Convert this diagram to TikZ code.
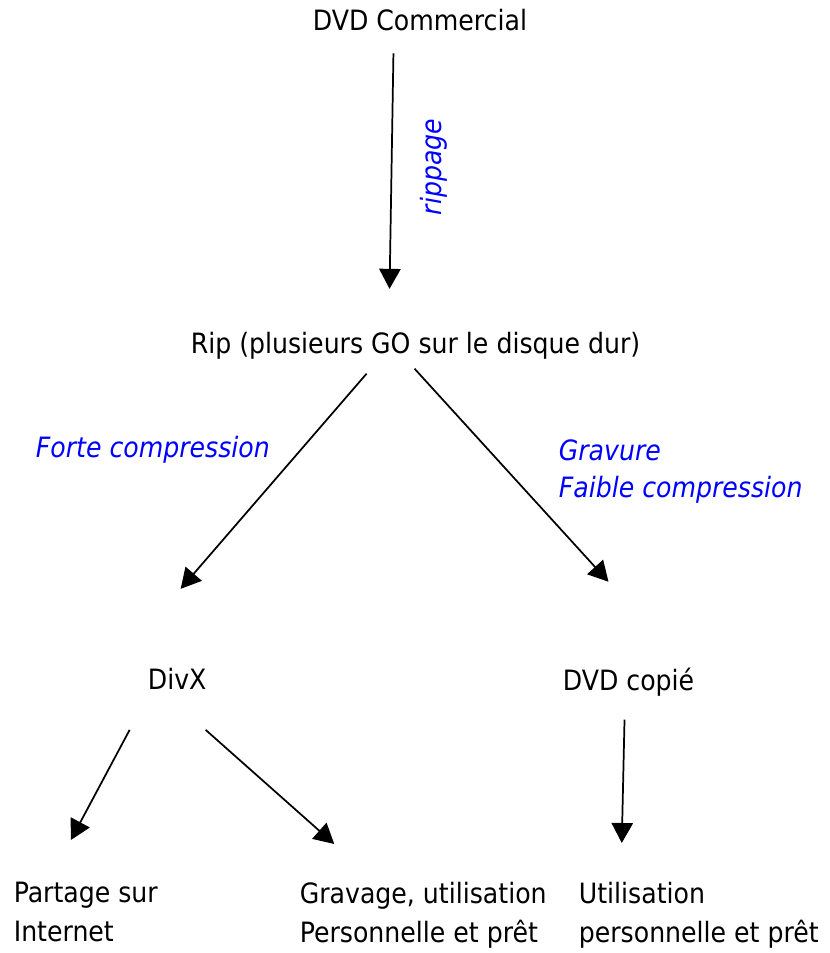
\documentclass[tikz,border=0pt]{standalone}
\usepackage{fontspec}
\setmainfont{DejaVu Sans Condensed}
\usetikzlibrary{arrows.meta, calc}

\tikzset{
  lbl/.style={inner sep=0pt, anchor=base west},
  step2/.style={inner sep=0pt, anchor=north west, align=left, font=\fontsize{21}{29.25}\selectfont},
  edgelbl/.style={inner sep=0pt, text=blue, font=\fontsize{21}{27.75}\selectfont\itshape}
}

\begin{document}
\begin{tikzpicture}[x=0.75pt, y=-0.75pt, >={Triangle[width=16pt, length=15pt]},
    font=\fontsize{21}{29}\selectfont, line width=1.3pt]
  \useasboundingbox (0,0) rectangle (830,953);

  % les etapes
  \node[lbl] (dvd) at (312,31) {DVD Commercial};
  \node[lbl] (rip) at (190,353) {Rip (plusieurs GO sur le disque dur)};
  \node[lbl] (divx) at (147,689) {DivX};
  \node[lbl] (copie) at (562,690) {DVD copié};
  \node[step2] (partage) at (13,881) {Partage sur\\Internet};
  \node[step2] (gravage) at (299,881) {Gravage, utilisation\\Personnelle et prêt};
  \node[step2] (perso) at (578,881) {Utilisation\\personnelle et prêt};

  % les fleches
  \draw[->] ($(dvd.south)+(-26.5,21)$) -- ($(rip.north)+(-26,-42)$);
  \draw[->] ($(rip.south)+(-49,14)$) -- ($(divx.north)+(3.5,-78)$);
  \draw[->] ($(rip.south)+(-1,9)$) -- ($(copie.north)+(-20,-85)$);
  \draw[->] ($(divx.south)+(-47.5,40)$) -- ($(partage.north)+(-15,-41)$);
  \draw[->] ($(divx.south)+(28.5,40)$) -- ($(gravage.north)+(-89,-37)$);
  \draw[->] ($(copie.south)+(-4,23)$) -- ($(perso.north)+(-77,-38)$);

  % les etiquettes
  \node[edgelbl, rotate=90] (rippage) at (434,167) {rippage};
  \node[edgelbl, anchor=base west] (forte) at (35,457) {Forte compression};
  \node[edgelbl, anchor=north west, align=left] (gravure) at (558,439) {Gravure\\Faible compression};
\end{tikzpicture}
\end{document}
